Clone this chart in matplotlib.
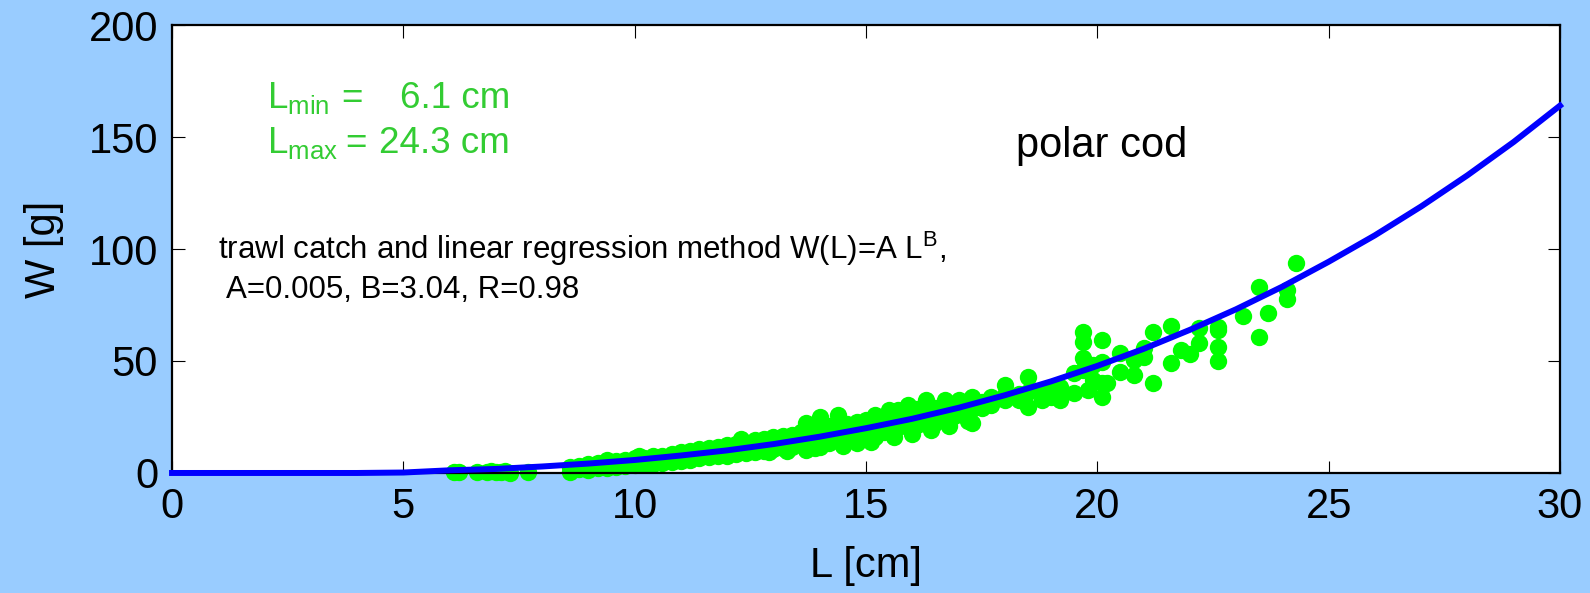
import matplotlib
matplotlib.use("Agg")
import matplotlib.pyplot as plt

plt.rcParams['font.family'] = ['Liberation Sans', 'DejaVu Sans']
plt.rcParams['mathtext.fontset'] = 'custom'
plt.rcParams['mathtext.rm'] = 'Liberation Sans'
plt.rcParams['mathtext.it'] = 'Liberation Sans'

# fitted curve W(L), read at each whole cm
curve_L = list(range(0, 31))
curve_W = [0, 0, 0, 0, 0, 0.2, 1.2, 1.8, 2.9, 4.2, 5.8, 7.8, 10.1, 12.9, 16.2,
           20.0, 24.2, 29.1, 34.7, 40.9, 47.8, 55.4, 63.9, 73.1, 83.2, 94.3,
           106.1, 119.0, 132.9, 147.8, 164.0]

# measured fish (trawl catch)
fish_L = [6.1, 6.2, 6.6, 6.8, 6.9, 7.0, 7.1, 7.2, 7.3, 7.7,
          8.6, 8.6, 8.8, 8.8, 9.0, 9.0, 9.0, 9.2, 9.2, 9.2, 9.4, 9.4, 9.4,
          9.6, 9.6, 9.6, 9.8, 9.8, 9.8, 10.0, 10.0, 10.0, 10.1, 10.1,
          10.2, 10.2, 10.2, 10.4, 10.4, 10.4, 10.6, 10.6, 10.6, 10.8, 10.8, 10.8,
          11.0, 11.0, 11.0, 11.2, 11.2, 11.2, 11.4, 11.4, 11.4, 11.6, 11.6, 11.6,
          11.8, 11.8, 11.8, 12.0, 12.0, 12.0, 12.2, 12.2, 12.2, 12.3, 12.3,
          12.4, 12.4, 12.4, 12.6, 12.6, 12.6, 12.8, 12.8, 12.8, 13.0, 13.0, 13.0,
          13.2, 13.2, 13.2, 13.4, 13.4, 13.4, 13.6, 13.6, 13.6, 13.7, 13.7,
          13.8, 13.8, 13.8, 14.0, 14.0, 14.0, 14.0, 14.0, 14.2, 14.2, 14.2,
          14.4, 14.4, 14.4, 14.4, 14.6, 14.6, 14.6, 14.8, 14.8, 14.8, 14.8,
          15.0, 15.0, 15.0, 15.2, 15.2, 15.2, 15.2, 15.4, 15.4, 15.4, 15.5, 15.5,
          15.7, 15.7, 15.7, 15.9, 15.9, 15.9, 16.1, 16.1, 16.1, 16.3, 16.3, 16.3,
          16.5, 16.5, 16.5, 16.7, 16.7, 16.7, 16.9, 16.9, 16.9, 17.0, 17.0,
          17.3, 17.3, 17.3, 17.5, 17.5, 17.7, 17.7, 18.0, 18.0, 18.0, 18.3, 18.3,
          18.5, 18.5, 18.5, 18.8, 18.8, 19.0, 19.0, 19.2, 19.2, 19.5, 19.5,
          19.7, 19.7, 19.7, 19.7, 19.8, 19.9, 19.9, 20.1, 20.1, 20.1, 20.1, 20.2,
          20.5, 20.5, 20.8, 20.8, 21.0, 21.0, 21.2, 21.2, 21.6, 21.6, 21.8, 22.0,
          22.2, 22.2, 22.6, 22.6, 22.6, 22.6, 23.15, 23.5, 23.5, 23.7, 24.1, 24.1, 24.3,
          12.9, 13.3, 13.9, 14.5, 15.1, 15.6, 16.0, 16.4, 16.8, 17.2]
fish_W = [0.3, 0.6, 0.5, 0.4, 0.8, 0.6, 0.3, 0.8, 0.2, 0.6,
          0.5, 2.5, 1.8, 3.0, 1.2, 2.6, 3.8, 2.0, 3.5, 4.6, 2.4, 4.0, 5.6,
          2.8, 4.4, 5.2, 3.0, 4.8, 6.0, 3.4, 5.2, 6.8, 4.2, 7.6,
          3.8, 5.8, 6.6, 4.2, 6.0, 7.4, 4.6, 6.6, 7.8, 5.0, 7.0, 8.4,
          5.4, 7.4, 9.2, 6.0, 8.0, 10.0, 6.6, 8.6, 10.6, 7.0, 9.2, 11.0,
          7.4, 9.8, 11.6, 7.8, 10.4, 12.4, 8.4, 11.0, 13.0, 10.0, 15.0,
          9.0, 11.4, 13.6, 9.4, 12.0, 14.6, 10.0, 12.6, 15.2, 10.6, 13.2, 16.0,
          11.0, 13.8, 16.4, 11.6, 14.6, 17.0, 12.4, 15.2, 18.4, 10.3, 22.2,
          13.0, 16.0, 19.0, 11.7, 14.0, 17.0, 20.0, 25.1, 13.6, 17.6, 20.8,
          14.4, 18.4, 21.6, 26.0, 15.0, 19.0, 22.0, 13.3, 16.2, 20.0, 22.9,
          16.8, 20.6, 23.7, 16.2, 18.4, 21.4, 25.9, 18.4, 22.0, 25.0, 19.0, 28.1,
          20.7, 24.0, 28.1, 20.7, 24.6, 30.4, 21.6, 26.2, 28.6, 22.2, 26.7, 32.6,
          22.2, 26.7, 29.0, 26.7, 28.0, 32.6, 25.5, 29.5, 30.5, 27.0, 32.6,
          22.2, 28.4, 34.1, 29.0, 31.5, 30.4, 34.1, 32.6, 39.3, 35.0, 32.6, 35.2,
          29.6, 36.0, 43.0, 35.6, 32.6, 34.0, 37.5, 32.6, 38.5, 35.6, 44.5,
          63.1, 58.6, 51.2, 46.0, 37.1, 48.2, 41.5, 40.0, 34.1, 59.4, 49.7, 40.0,
          53.4, 45.2, 50.4, 43.8, 55.7, 51.9, 63.1, 40.3, 65.5, 49.0, 54.9, 53.1,
          64.6, 58.2, 65.0, 63.8, 56.1, 50.1, 70.1, 82.9, 60.6, 71.3, 81.7, 77.5, 93.9,
          9.5, 10.0, 11.0, 12.2, 14.0, 16.0, 17.5, 19.0, 21.0, 23.0]

x_ticks = [0, 5, 10, 15, 20, 25, 30]
y_ticks = [0, 50, 100, 150, 200]

fig = plt.figure(figsize=(15.9, 5.93), dpi=100, facecolor='#99CCFF')
ax = fig.add_axes([0.1082, 0.2024, 0.8729, 0.7554])
ax.set_facecolor('white')

ax.plot(fish_L, fish_W, 'o', color='#00FF00', markersize=12.5, markeredgewidth=0,
        clip_on=False, zorder=2)
ax.plot(curve_L, curve_W, '-', color='#0000FF', linewidth=4.3, clip_on=False, zorder=3)

ax.set_xlim(0, 30)
ax.set_ylim(0, 200)
ax.set_xticks(x_ticks)
ax.set_yticks(y_ticks)
ax.tick_params(direction='in', length=9, width=0.8, top=True, right=True,
               labelsize=30, pad=10, colors='black')
for s in ax.spines.values():
    s.set_linewidth(1.6)
ax.set_xlabel('L [cm]', fontsize=30, labelpad=14)
ax.set_ylabel('W [g]', fontsize=30, labelpad=18)

green = '#33CC33'
ax.text(2.05, 163, r'L$_{\mathrm{min}}$', color=green, fontsize=26.5)
ax.text(2.05, 143, r'L$_{\mathrm{max}}$', color=green, fontsize=26.5)
ax.text(3.65, 163, '=', color=green, fontsize=26.5)
ax.text(3.75, 143, '=', color=green, fontsize=26.5)
ax.text(7.3, 163, '6.1 cm', color=green, fontsize=26.5, ha='right')
ax.text(7.3, 143, '24.3 cm', color=green, fontsize=26.5, ha='right')

ax.text(1.0, 95.5, r'trawl catch and linear regression method W(L)=A L$^{\mathrm{B}}$,',
        fontsize=22.5)
ax.text(1.17, 78, 'A=0.005, B=3.04, R=0.98', fontsize=22.5)
ax.text(18.25, 141, 'polar cod', fontsize=30)

fig.savefig('out.png', dpi=100, facecolor=fig.get_facecolor())
